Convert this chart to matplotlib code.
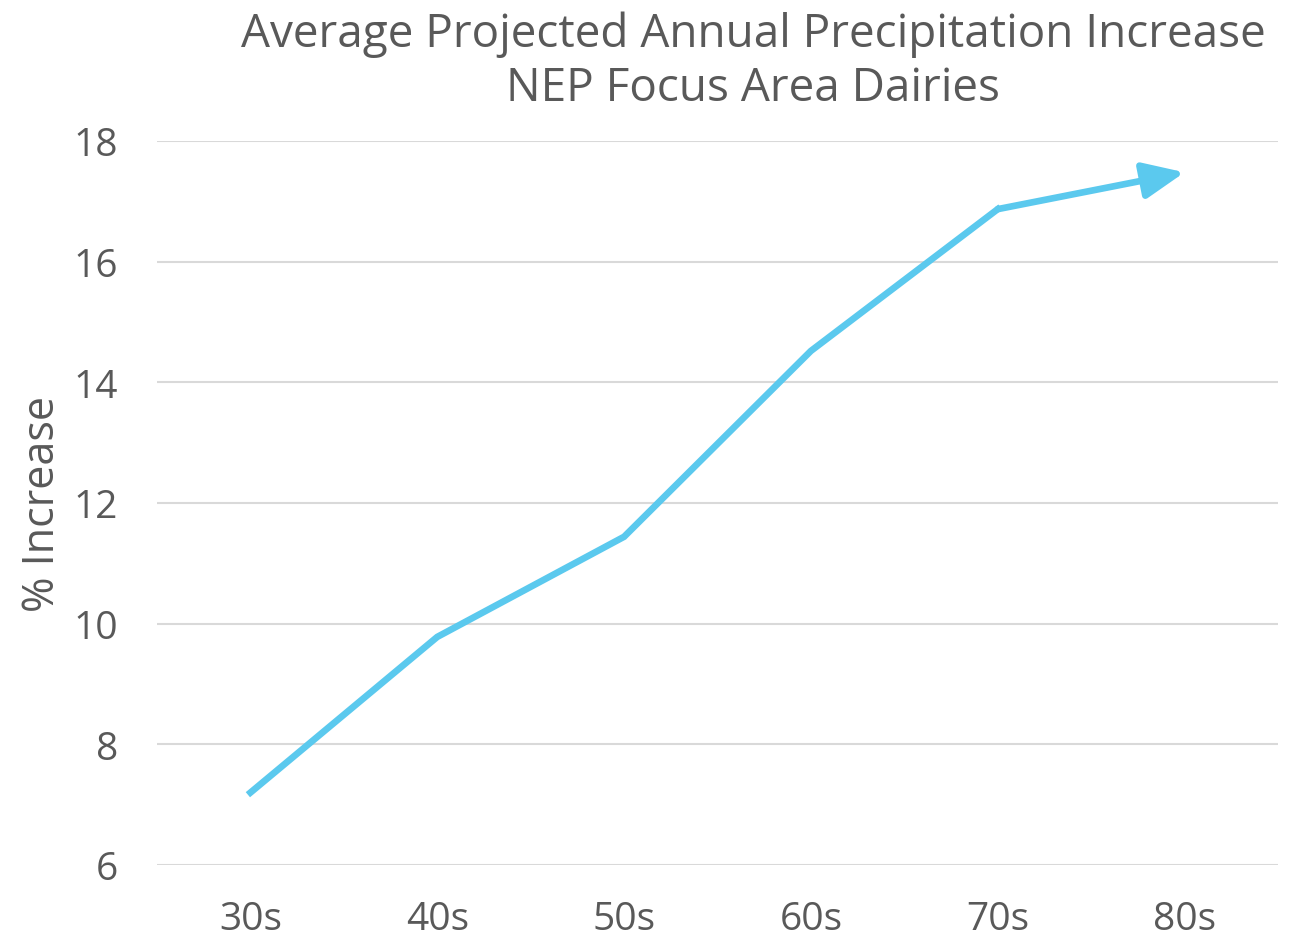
import matplotlib
matplotlib.use("Agg")
import matplotlib.pyplot as plt

# data
decades = ["30s", "40s", "50s", "60s", "70s", "80s"]
pct_increase = [7.2, 9.78, 11.44, 14.52, 16.87, 17.48]

line_color = "#5BC9EE"
text_color = "#595959"

plt.rcParams['font.family'] = ['Open Sans', 'DejaVu Sans']

fig = plt.figure(figsize=(13.01, 9.37), dpi=100)
ax = fig.add_axes([0.1207, 0.0758, 0.8616, 0.7727])

x = list(range(len(decades)))
# line up to the 70s, then an arrow to the 80s
ax.plot(x[:-1], pct_increase[:-1], color=line_color, linewidth=4.8,
        solid_joinstyle='miter', zorder=3)
ax.annotate("", xy=(x[-1], pct_increase[-1]), xytext=(x[-2], pct_increase[-2]),
            arrowprops=dict(arrowstyle="-|>,head_length=2.5,head_width=1.1",
                            color=line_color, lw=4.8, shrinkA=0, shrinkB=0),
            zorder=3)

ax.set_xlim(-0.5, len(decades) - 0.5)
ax.set_ylim(6, 18)
ax.set_yticks(range(6, 19, 2))
ax.set_xticks(x)
ax.set_xticklabels(decades)

for s in ax.spines.values():
    s.set_visible(False)
ax.tick_params(length=0, labelsize=28, colors=text_color)
ax.tick_params(axis='x', pad=25)
ax.tick_params(axis='y', pad=28)
ax.yaxis.grid(True, color="#D9D9D9", linewidth=1.5)
ax.set_axisbelow(True)

ax.set_ylabel("% Increase", fontsize=31, color=text_color, labelpad=6)

fig.text(0.579, 0.988, "Average Projected Annual Precipitation Increase\nNEP Focus Area Dairies",
         ha='center', va='top', fontsize=33, color=text_color, linespacing=1.25)

fig.savefig("out.png", dpi=100)
